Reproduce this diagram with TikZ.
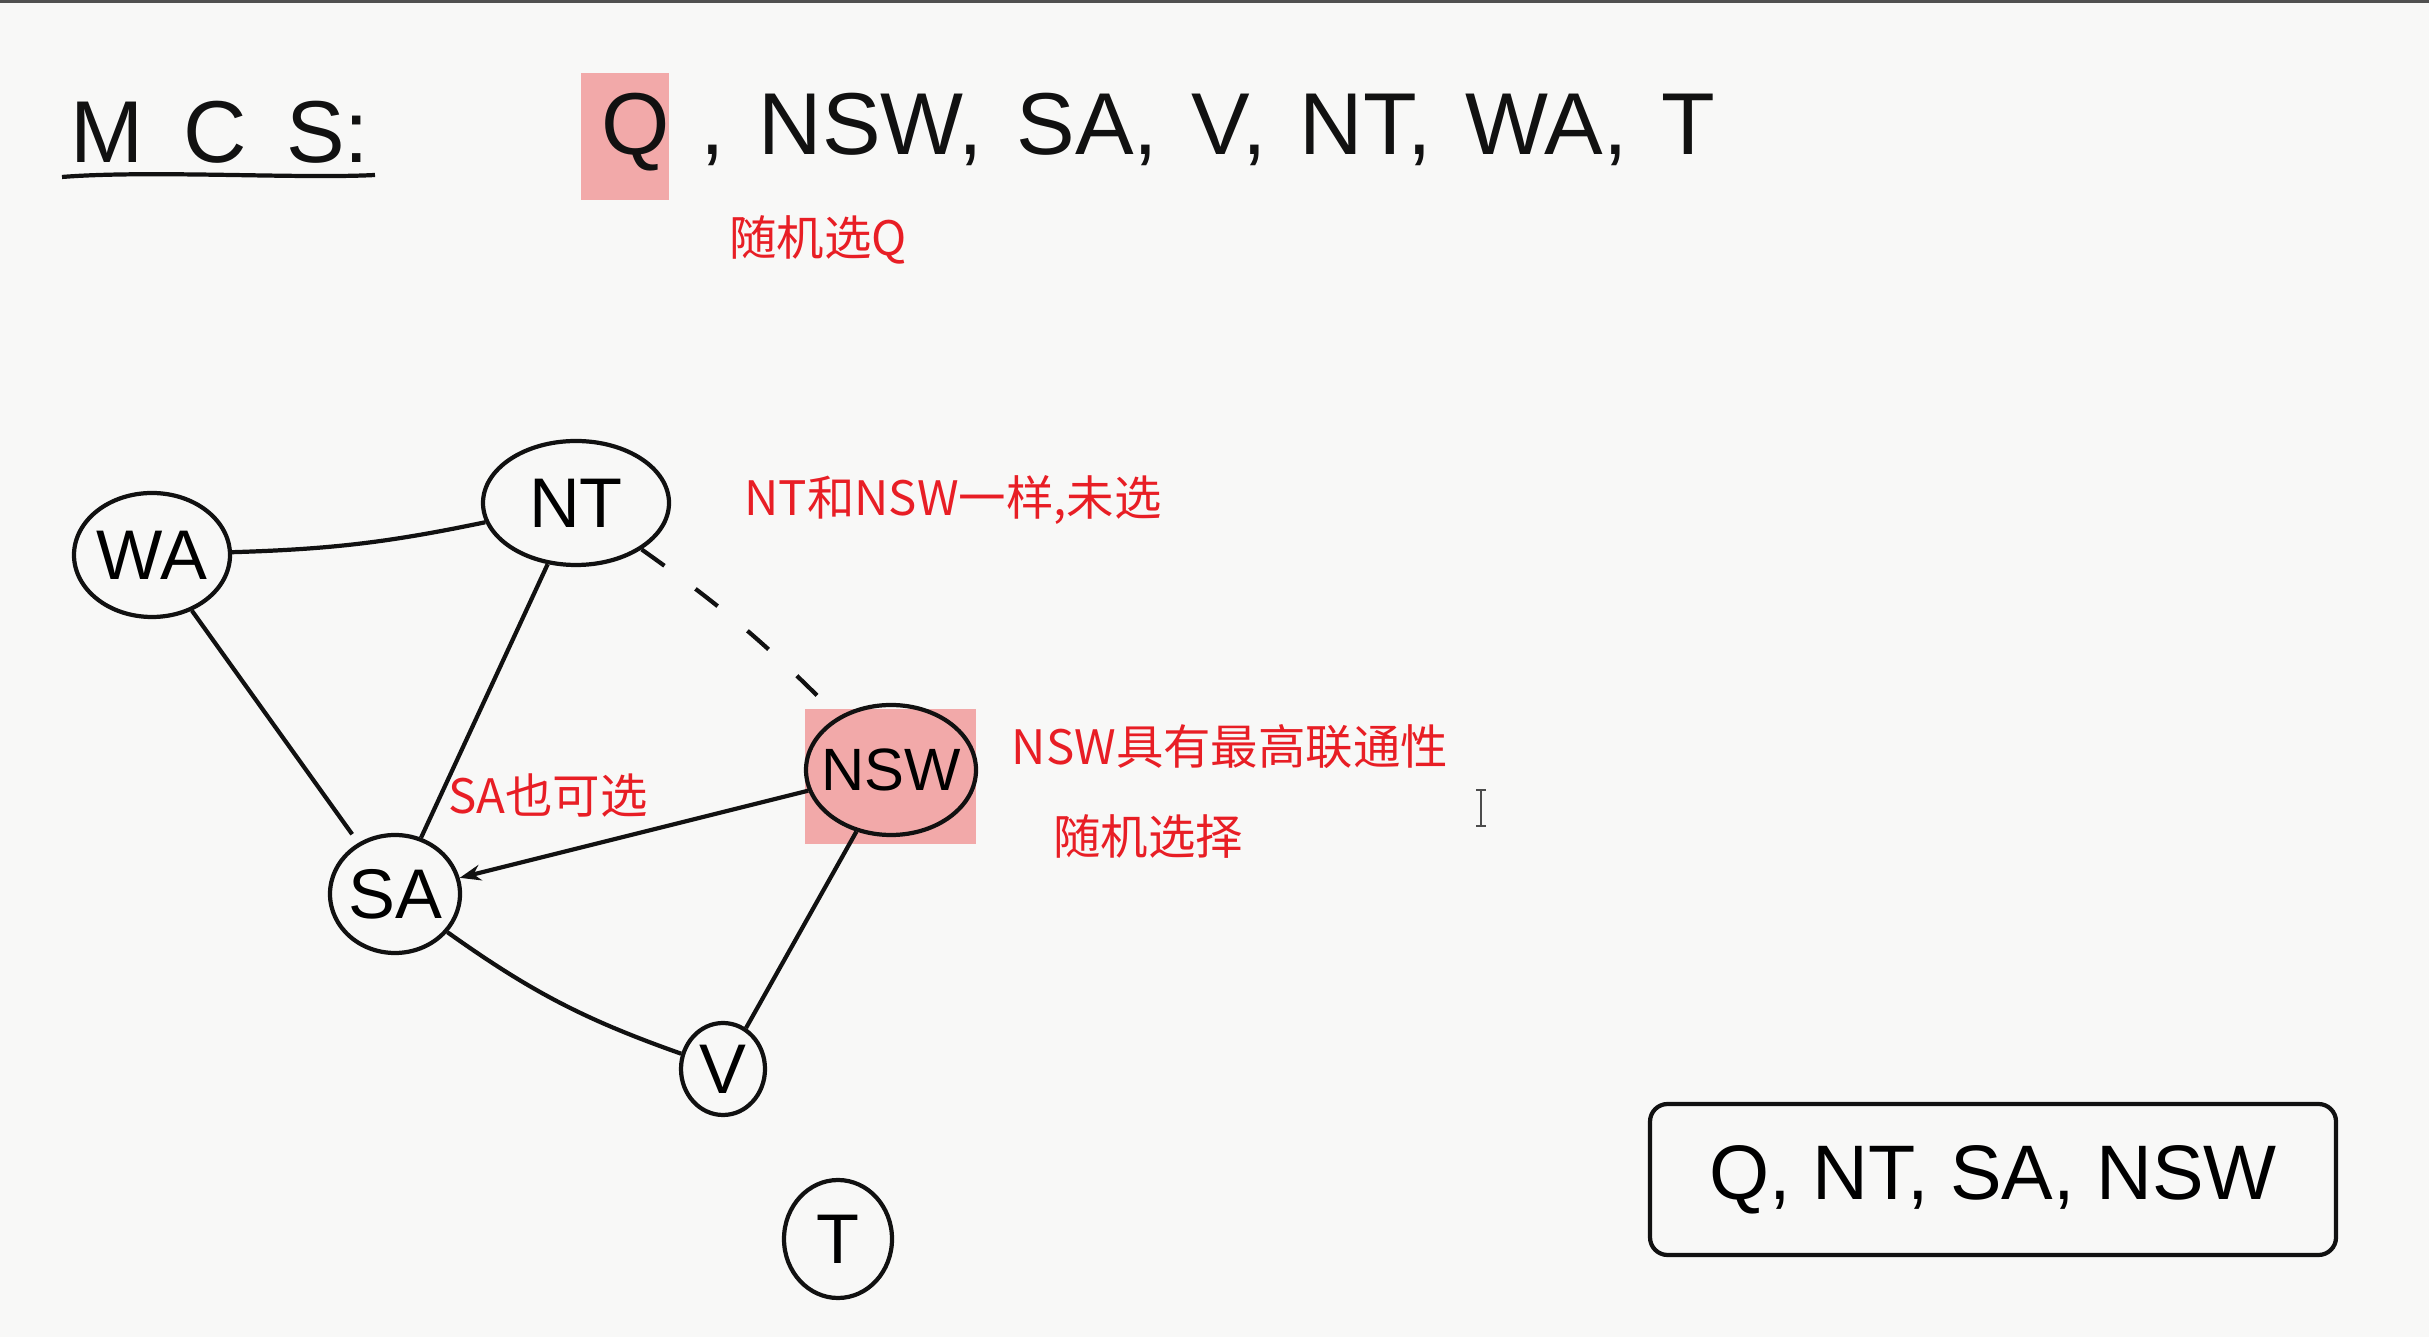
\documentclass[tikz,border=0pt]{standalone}
\usepackage{fontspec}
\setmainfont{Liberation Sans}
\newfontfamily\cjk{Noto Sans CJK SC}
\usepackage{xcolor}
\definecolor{paper}{HTML}{F8F8F7}
\definecolor{ink}{HTML}{111111}
\definecolor{redpen}{HTML}{E81E25}
\definecolor{hilite}{HTML}{F2A9A9}
\definecolor{frameline}{HTML}{505050}
\usepackage{tikz}
\usetikzlibrary{arrows.meta, positioning, shapes.geometric}
\newcommand{\hand}[1]{\makebox[0pt]{#1}}
\newcommand{\gap}{,\hspace{0.38em}}

\begin{document}
\begin{tikzpicture}[
  state/.style={draw=ink, ellipse, line width=1.2pt, inner sep=0pt,
                font=\fontsize{20}{24}\selectfont},
  note/.style={text=redpen, inner sep=0pt, font=\cjk\fontsize{13.5}{16}\selectfont},
  glow/.style={fill=hilite, draw=none, inner sep=0pt},
  link/.style={draw=ink, line width=1.2pt},
  arr/.style={-{Stealth[length=6pt]}, line width=1.2pt, ink},
  seq/.style={text=ink, inner sep=0pt, font=\fontsize{25}{30}\selectfont}
]
% canvas
\useasboundingbox (0,0) rectangle (24.29,13.37);
\fill[paper] (0,0) rectangle (24.29,13.37);
\fill[frameline] (0,13.34) rectangle (24.29,13.37);

% heading and order
\node[seq, anchor=west] (mcs) at (0.70,12.05) {M\hspace{0.45em}C\hspace{0.45em}S:};
\coordinate (ul1) at (0.62,11.60);
\coordinate (ul2) at (3.75,11.62);
\draw[link] (ul1) .. controls (1.5,11.67) and (3.0,11.58) .. (ul2);

\node[glow, minimum width=0.88cm, minimum height=1.27cm] (qglow) at (6.25,12.0) {};
\node[seq, anchor=west] (order) at (6.01,12.05)
  {Q\hspace{0.35em}\gap NSW\gap SA\gap V\gap NT\gap WA\gap T};
\node[note] (pickq) at (8.18,10.97) {随机选Q};

% graph
\node[glow, minimum width=1.71cm, minimum height=1.35cm] (nswglow) at (8.905,5.605) {};
\node[state, minimum width=1.56cm, minimum height=1.24cm] (wa)  at (1.52,7.82) {\hand{WA}};
\node[state, minimum width=1.86cm, minimum height=1.24cm] (nt)  at (5.76,8.34) {\hand{NT}};
\node[state, minimum width=1.70cm, minimum height=1.30cm,
      font=\fontsize{17}{20}\selectfont] (nsw) at (8.91,5.67) {\hand{NSW}};
\node[state, minimum width=1.30cm, minimum height=1.18cm] (sa)  at (3.95,4.43) {\hand{SA}};
\node[state, minimum width=0.84cm, minimum height=0.92cm] (v)   at (7.23,2.68) {\hand{V}};
\node[state, minimum width=1.08cm, minimum height=1.18cm] (t)   at (8.38,0.98) {\hand{T}};

\draw[link] (wa) to[bend right=5] (nt);
\draw[link, shorten >=3pt] (wa) -- (sa);
\draw[link] (nt) -- (sa);
\draw[link, dash pattern=on 8pt off 11pt] (nt) to[bend left=5] (nsw);
\draw[arr] (nsw) -- (sa);
\draw[link] (nsw) -- (v);
\draw[link] (sa) to[bend right=8] (v);

\node[note] (ntnote)   at (9.53,8.37)  {NT和NSW一样,未选};
\node[note] (nswnote)  at (12.30,5.90) {NSW具有最高联通性};
\node[note] (randnote) at (11.48,5.01) {随机选择};
\node[note] (sanote)   at (5.48,5.41)  {SA也可选};

% text cursor
\draw[ink!75, line width=0.7pt] (14.81,5.12) -- (14.81,5.46)
  (14.76,5.47) -- (14.86,5.47) (14.76,5.11) -- (14.86,5.11);

% result
\node[draw=ink, line width=1.2pt, rounded corners=5pt, minimum width=6.86cm,
      minimum height=1.51cm, font=\fontsize{22}{26}\selectfont] (result)
  at (19.93,1.575) {Q, NT, SA, NSW};

\end{tikzpicture}
\end{document}
